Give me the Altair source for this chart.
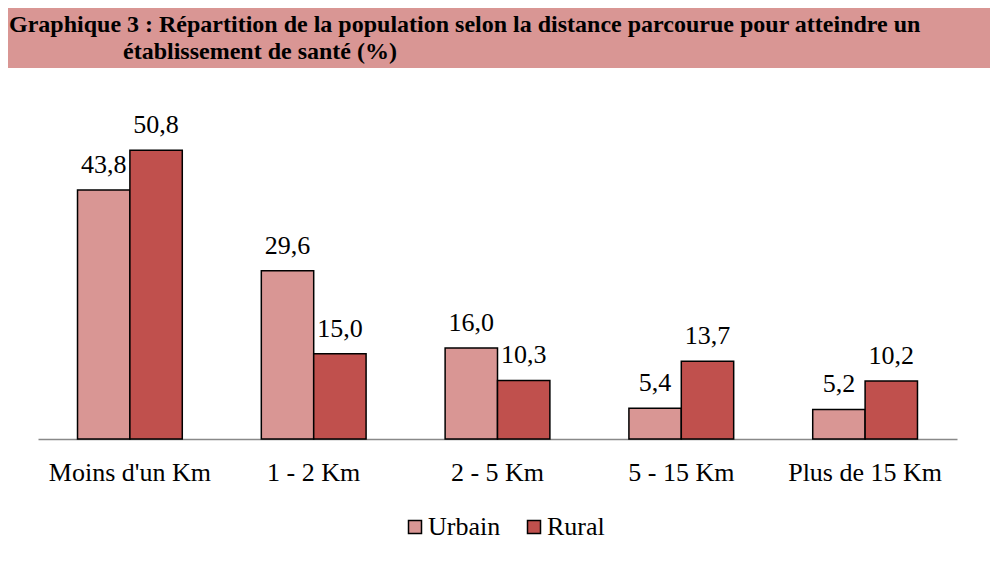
import altair as alt
import pandas as pd

categories = ["Moins d'un Km", "1 - 2 Km", "2 - 5 Km", "5 - 15 Km", "Plus de 15 Km"]
series = ["Urbain", "Rural"]
urbain = [43.8, 29.6, 16.0, 5.4, 5.2]
rural = [50.8, 15.0, 10.3, 13.7, 10.2]
colors = ["#D99694", "#C0504D"]
title_line1 = "Graphique 3 : Répartition de la population selon la distance parcourue pour atteindre un"
title_line2 = "établissement de santé (%)"

rows = []
for i, c in enumerate(categories):
    rows.append({"cat": c, "serie": "Urbain", "val": urbain[i]})
    rows.append({"cat": c, "serie": "Rural", "val": rural[i]})
df = pd.DataFrame(rows)
df["label"] = df["val"].map(lambda v: f"{v:.1f}".replace(".", ","))

FONT = "Times New Roman, Liberation Serif, serif"

x = alt.X(
    "cat:N", sort=categories, title=None,
    scale=alt.Scale(paddingInner=0.43, paddingOuter=0.215),
    axis=alt.Axis(labelAngle=0, ticks=False, tickSize=0, labelPadding=41,
                  labelBaseline="alphabetic", labelFont=FONT, labelFontSize=26,
                  labelColor="black", domainColor="#898989", domainWidth=1.5),
)
xo = alt.XOffset("serie:N", sort=series)
y = alt.Y("val:Q", scale=alt.Scale(domain=[0, 60]), axis=None)
color = alt.Color(
    "serie:N", sort=series,
    scale=alt.Scale(domain=series, range=colors),
    legend=alt.Legend(title=None, orient="none", direction="horizontal",
                      legendX=364, legendY=416, symbolType="square", symbolSize=169,
                      symbolStrokeColor="black", symbolStrokeWidth=1.5,
                      labelFont=FONT, labelFontSize=26, labelColor="black",
                      labelOffset=0, columnPadding=20),
)

base = alt.Chart(df)
bars = base.mark_bar(stroke="black", strokeWidth=1.5).encode(x=x, xOffset=xo, y=y, color=color)
labels = base.mark_text(baseline="alphabetic", dy=-17, font=FONT, fontSize=26, color="black").encode(
    x=x, xOffset=xo, y=y, text="label:N")

hdr = pd.DataFrame({"t": [title_line1]})
bar_bg = alt.Chart(hdr).mark_rect(color="#D99694").encode(
    x=alt.value(-30), x2=alt.value(952), y=alt.value(-90), y2=alt.value(-30))
t1 = alt.Chart(hdr).mark_text(align="left", baseline="alphabetic", font=FONT, fontSize=24,
                              fontWeight="bold", color="black").encode(
    x=alt.value(-29), y=alt.value(-66), text=alt.value(title_line1))
t2 = alt.Chart(hdr).mark_text(align="left", baseline="alphabetic", font=FONT, fontSize=24,
                              fontWeight="bold", color="black").encode(
    x=alt.value(85), y=alt.value(-39), text=alt.value(title_line2))

chart = alt.layer(bar_bg, t1, t2, bars, labels).properties(
    width=919, height=341,
    autosize=alt.AutoSizeParams(type="none"),
    padding={"left": 30, "top": 90, "right": 33, "bottom": 116},
).configure_view(stroke=None)

chart.save("out.html", embed_options={"renderer": "svg", "actions": False})
